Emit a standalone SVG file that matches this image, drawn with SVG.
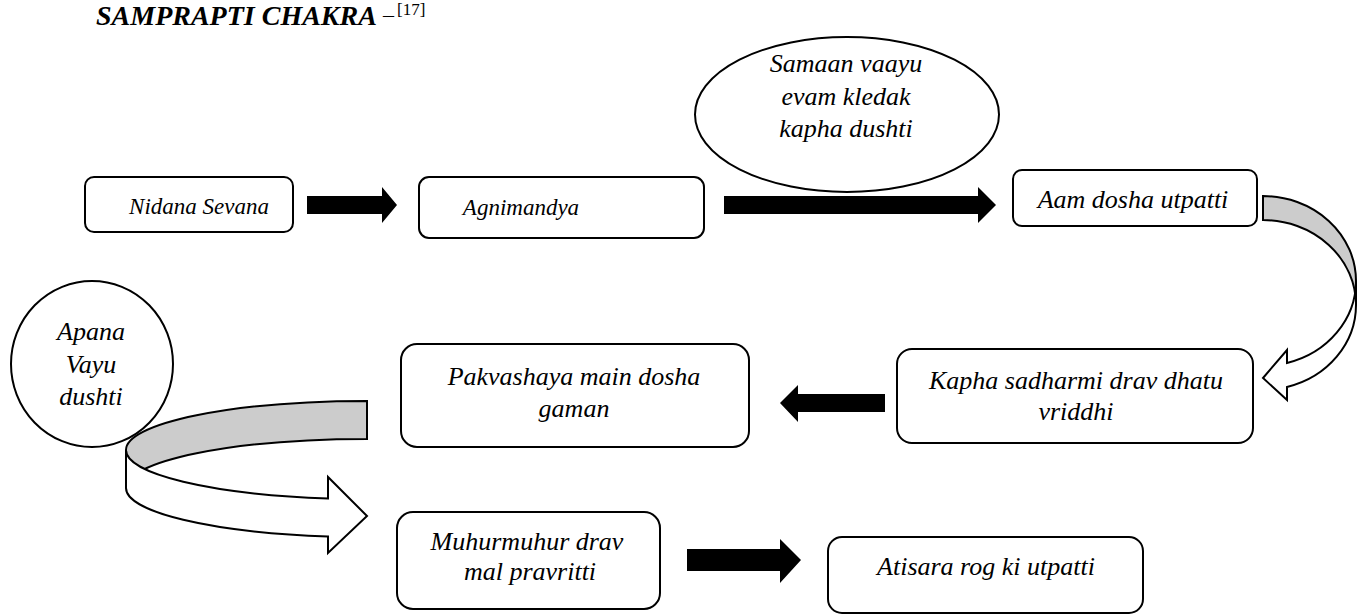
<svg xmlns="http://www.w3.org/2000/svg" width="1357" height="614" viewBox="0 0 1357 614" font-family="'Liberation Serif', 'DejaVu Serif', serif">
<style>
.box{fill:#fff;stroke:#000;stroke-width:2}
.t{font-style:italic;font-size:26px;fill:#000;text-anchor:middle}
.s{font-size:23px}
.arr{fill:#000;stroke:none}
.band{stroke:#000;stroke-width:2;stroke-linejoin:miter}
.gray{fill:#cccccc}
.white{fill:#fff}
.title{font-style:italic;font-weight:bold;font-size:28px;fill:#000}
</style>
<rect width="1357" height="614" fill="#fff"/>
<g id="title">
<text class="title" x="96" y="25">SAMPRAPTI CHAKRA</text>
<text x="383" y="22" font-size="22" fill="#000">–</text>
<text x="397" y="15" font-size="17" fill="#000">[17]</text>
</g>
<g id="connectors">
<polygon class="arr" points="307,196 382,196 382,187 397,205 382,223 382,214 307,214"/>
<polygon class="arr" points="724,196 978,196 978,187 996,205 978,223 978,214 724,214"/>
<polygon class="arr" points="885,394 798,394 798,385 780,403 798,422 798,412 885,412"/>
<polygon class="arr" points="687,549 780,549 780,539 801,560 780,583 780,571 687,571"/>
<path class="band gray" d="M1263,196 A93,85 0 0 1 1356,281 L1356,305 A93,85 0 0 0 1263,220 Z"/>
<path class="band white" d="M1356,281 A93,85 0 0 1 1287,363 L1287,350 L1263,378 L1287,400 L1287,387 A93,85 0 0 0 1356,305 Z"/>
<path class="band gray" d="M367,401 A241,49 0 0 0 126,450 L126,488 A241,49 0 0 1 367,439 Z"/>
<path class="band white" d="M126,450 A241,49 0 0 0 328,498.4 L328,477 L367,516 L328,553 L328,536.4 A241,49 0 0 1 126,488 Z"/>
</g>
<g id="n-nidana">
<rect class="box" x="85" y="177" width="208" height="55" rx="9"/>
<text class="t s" x="199" y="214">Nidana Sevana</text>
</g>
<g id="n-agnimandya">
<rect class="box" x="419" y="177" width="285" height="61" rx="10"/>
<text class="t s" x="521" y="215">Agnimandya</text>
</g>
<g id="n-samaan">
<ellipse class="box" cx="847" cy="114.5" rx="152" ry="77.5"/>
<text class="t" x="846" y="72">Samaan vaayu</text>
<text class="t" x="846" y="105">evam kledak</text>
<text class="t" x="846" y="137">kapha dushti</text>
</g>
<g id="n-aam">
<rect class="box" x="1013" y="170" width="244" height="56" rx="9"/>
<text class="t" x="1133" y="208">Aam dosha utpatti</text>
</g>
<g id="n-kapha">
<rect class="box" x="897" y="349" width="356" height="94" rx="15"/>
<text class="t" x="1076" y="389">Kapha sadharmi drav dhatu</text>
<text class="t" x="1076" y="420">vriddhi</text>
</g>
<g id="n-pakvashaya">
<rect class="box" x="401" y="344" width="348" height="103" rx="16"/>
<text class="t" x="574" y="385">Pakvashaya main dosha</text>
<text class="t" x="574" y="417">gaman</text>
</g>
<g id="n-apana">
<ellipse class="box" cx="92" cy="364" rx="81" ry="83"/>
<text class="t" x="91" y="340">Apana</text>
<text class="t" x="91" y="373">Vayu</text>
<text class="t" x="91" y="405">dushti</text>
</g>
<g id="n-muhurmuhur">
<rect class="box" x="397" y="512" width="263" height="97" rx="16"/>
<text class="t" x="527" y="550">Muhurmuhur drav</text>
<text class="t" x="530" y="580">mal pravritti</text>
</g>
<g id="n-atisara">
<rect class="box" x="828" y="537" width="315" height="76" rx="14"/>
<text class="t" x="986" y="575">Atisara rog ki utpatti</text>
</g>
</svg>
